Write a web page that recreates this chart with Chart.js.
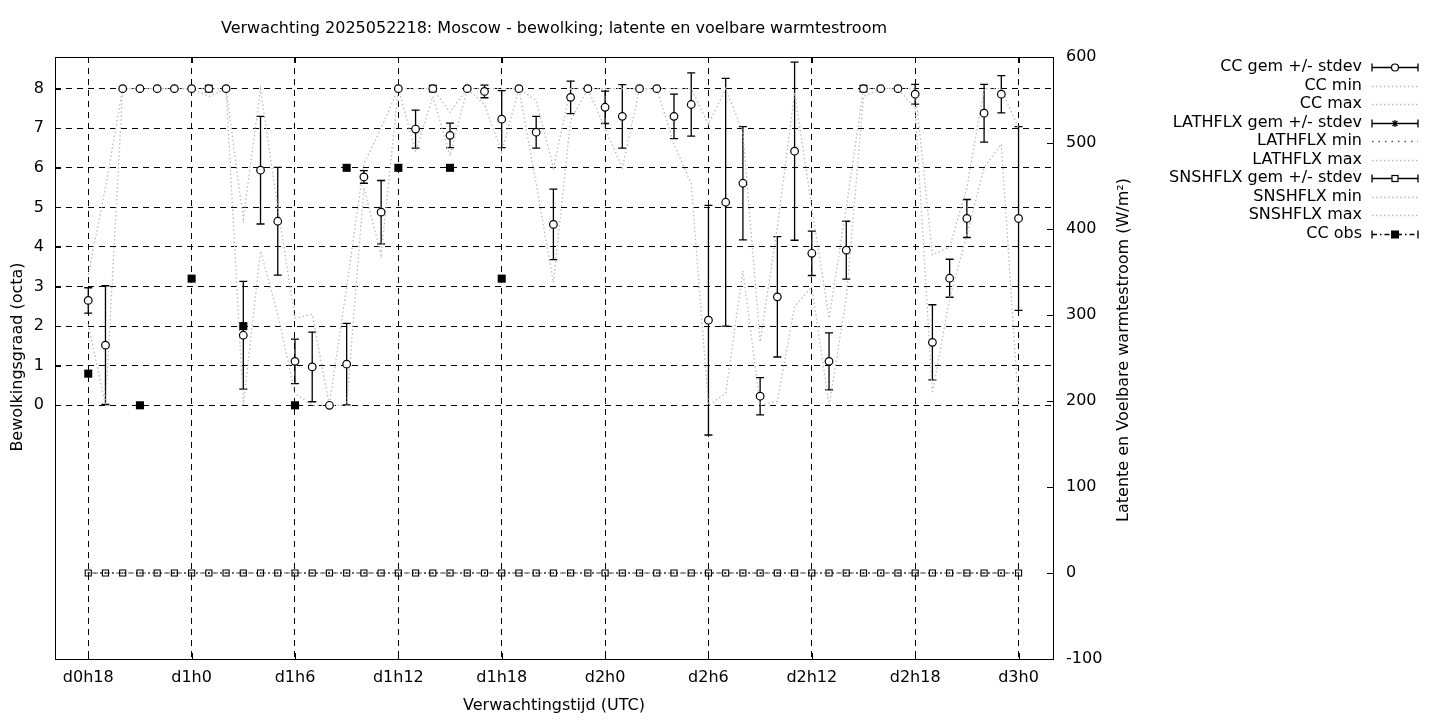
<!DOCTYPE html>
<html>
<head>
<meta charset="utf-8">
<script src="https://cdn.jsdelivr.net/npm/chart.js@4.4.1/dist/chart.umd.min.js"></script>
<style>
  body { margin: 0; background: #fff; }
  canvas { display: block; }
</style>
</head>
<body>
<canvas id="chart" width="1440" height="720"></canvas>
<script>
// forecast hours (hours after d0h0)
const hours = [18,19,20,21,22,23,24,25,26,27,28,29,30,31,32,33,34,35,36,37,38,39,40,41,42,43,44,45,46,47,48,49,50,51,52,53,54,55,56,57,58,59,60,61,62,63,64,65,66,67,68,69,70,71,72];
const tickHours = [18,24,30,36,42,48,54,60,66,72];
const tickLabels = ['d0h18','d1h0','d1h6','d1h12','d1h18','d2h0','d2h6','d2h12','d2h18','d3h0'];
const ccTicks = [0,1,2,3,4,5,6,7,8];
const fluxTicks = [-100,0,100,200,300,400,500,600];

// bewolking (octa)
const ccMean = [2.65,1.52,8,8,8,8,8,8,8,1.77, 5.94,4.65,1.11,0.97,0,1.04,5.77,4.88,8,6.98, 8,6.82,8,7.93,7.23,8,6.90,4.57,7.78,8, 7.53,7.30,8,8,7.30,7.60,2.15,5.13,5.61,0.23, 2.74,6.42,3.84,1.11,3.92,8,8,8,7.86,1.59, 3.21,4.72,7.38,7.86,4.72];
const ccStdev = [0.32,1.5,0,0,0,0,0,0.08,0,1.36, 1.36,1.36,0.56,0.88,0,1.03,0.16,0.80,0,0.48, 0.08,0.31,0,0.16,0.72,0,0.40,0.89,0.41,0, 0.41,0.80,0,0,0.56,0.80,2.90,3.13,1.43,0.47, 1.52,2.25,0.56,0.72,0.73,0.08,0,0,0.25,0.95, 0.48,0.48,0.73,0.47,2.32];
const ccMin = [2.05,0,8,8,8,8,8,7.8,8,0, 3.9,2.3,0.3,0,0,0,5.5,3.8,8,6.4, 7.8,6.3,8,7.6,6.4,8,5.6,3.1,7.2,8, 7.0,6.0,8,8,6.6,5.6,0,0.3,3.4,0, 0.1,2.5,3.0,0,2.7,7.8,8,8,7.5,0.3, 2.7,4.3,6.0,6.6,0];
const ccMax = [3.3,5.5,8,8,8,8,8,8,8,4.7, 8,5.0,2.2,2.3,0,3.0,6.1,7.0,8,8, 8,7.4,8,8,8,8,7.7,6.0,8,8, 8,8,8,8,8,8,7.1,8,6.9,1.6, 4.5,7.9,5.0,2.2,5.0,8,8,8,8,3.8, 4.0,5.5,8,8,7.0];

// warmtestroom (W/m2)
const lathflxMean = [0,0,0,0,0,0,0,0,0,0,0, 0,0,0,0,0,0,0,0,0,0,0, 0,0,0,0,0,0,0,0,0,0,0, 0,0,0,0,0,0,0,0,0,0,0, 0,0,0,0,0,0,0,0,0,0,0];
const lathflxMin = [0,0,0,0,0,0,0,0,0,0,0, 0,0,0,0,0,0,0,0,0,0,0, 0,0,0,0,0,0,0,0,0,0,0, 0,0,0,0,0,0,0,0,0,0,0, 0,0,0,0,0,0,0,0,0,0,0];
const lathflxMax = [0,0,0,0,0,0,0,0,0,0,0, 0,0,0,0,0,0,0,0,0,0,0, 0,0,0,0,0,0,0,0,0,0,0, 0,0,0,0,0,0,0,0,0,0,0, 0,0,0,0,0,0,0,0,0,0,0];
const snshflxMean = [0,0,0,0,0,0,0,0,0,0,0, 0,0,0,0,0,0,0,0,0,0,0, 0,0,0,0,0,0,0,0,0,0,0, 0,0,0,0,0,0,0,0,0,0,0, 0,0,0,0,0,0,0,0,0,0,0];
const snshflxMin = [0,0,0,0,0,0,0,0,0,0,0, 0,0,0,0,0,0,0,0,0,0,0, 0,0,0,0,0,0,0,0,0,0,0, 0,0,0,0,0,0,0,0,0,0,0, 0,0,0,0,0,0,0,0,0,0,0];
const snshflxMax = [0,0,0,0,0,0,0,0,0,0,0, 0,0,0,0,0,0,0,0,0,0,0, 0,0,0,0,0,0,0,0,0,0,0, 0,0,0,0,0,0,0,0,0,0,0, 0,0,0,0,0,0,0,0,0,0,0];

// waarnemingen
const obsHours = [18,21,24,27,30,33,36,39,42];
const obsValues = [0.8,0,3.2,2.0,0,6,6,6,3.2];

const legendLabels = ['CC gem +/- stdev','CC min','CC max','LATHFLX gem +/- stdev','LATHFLX min','LATHFLX max','SNSHFLX gem +/- stdev','SNSHFLX min','SNSHFLX max','CC obs'];

const FONT = '"DejaVu Sans", sans-serif';
const pts = (xs, ys) => xs.map((h, i) => ({ x: h, y: ys[i] }));

const dotted = (data, axis, color, dash) => ({
  data: data, yAxisID: axis, showLine: true, pointRadius: 0,
  borderColor: color, borderWidth: 1.3, borderDash: dash
});

// foutbalken voor CC gemiddelde
const errorBars = {
  id: 'errorBars',
  beforeDatasetsDraw(chart) {
    const ctx = chart.ctx, xs = chart.scales.x, ys = chart.scales.y;
    ctx.save();
    ctx.strokeStyle = '#000';
    ctx.lineWidth = 1.3;
    hours.forEach((h, i) => {
      if (!ccStdev[i]) return;
      const x = xs.getPixelForValue(h);
      const y1 = ys.getPixelForValue(ccMean[i] + ccStdev[i]);
      const y2 = ys.getPixelForValue(ccMean[i] - ccStdev[i]);
      ctx.beginPath();
      ctx.moveTo(x, y1); ctx.lineTo(x, y2);
      ctx.moveTo(x - 4, y1); ctx.lineTo(x + 4, y1);
      ctx.moveTo(x - 4, y2); ctx.lineTo(x + 4, y2);
      ctx.stroke();
    });
    ctx.restore();
  }
};

// kader, titels en legenda in gnuplot-stijl
const decorations = {
  id: 'decorations',
  afterDraw(chart) {
    const ctx = chart.ctx, a = chart.chartArea;
    const xs = chart.scales.x, ys = chart.scales.y, y2s = chart.scales.y2;
    ctx.save();
    ctx.strokeStyle = '#000';
    ctx.lineWidth = 1;
    ctx.strokeRect(Math.round(a.left) + 0.5, Math.round(a.top) + 0.5, Math.round(a.right - a.left), Math.round(a.bottom - a.top));
    ctx.beginPath();
    ccTicks.forEach(v => {
      const y = Math.round(ys.getPixelForValue(v)) + 0.5;
      ctx.moveTo(a.left, y); ctx.lineTo(a.left + 6, y);
    });
    fluxTicks.forEach(v => {
      const y = Math.round(y2s.getPixelForValue(v)) + 0.5;
      ctx.moveTo(a.right, y); ctx.lineTo(a.right - 6, y);
    });
    tickHours.forEach(h => {
      const x = Math.round(xs.getPixelForValue(h)) + 0.5;
      ctx.moveTo(x, a.bottom); ctx.lineTo(x, a.bottom - 6);
      ctx.moveTo(x, a.top); ctx.lineTo(x, a.top + 6);
    });
    ctx.stroke();

    ctx.fillStyle = '#000';
    ctx.font = '16px ' + FONT;
    ctx.textAlign = 'center';
    ctx.textBaseline = 'middle';
    const cx = (a.left + a.right) / 2;
    ctx.fillText('Verwachting 2025052218: Moscow - bewolking; latente en voelbare warmtestroom', cx, 29);
    ctx.fillText('Verwachtingstijd (UTC)', cx, 706);
    ctx.save();
    ctx.translate(18, 357);
    ctx.rotate(-Math.PI / 2);
    ctx.fillText('Bewolkingsgraad (octa)', 0, 0);
    ctx.restore();
    ctx.save();
    ctx.translate(1124, 350);
    ctx.rotate(-Math.PI / 2);
    ctx.fillText('Latente en Voelbare warmtestroom (W/m²)', 0, 0);
    ctx.restore();

    // legenda
    const x1 = 1372, x2 = 1418, xm = 1395;
    legendLabels.forEach((label, i) => {
      const y = 67 + i * 18.5;
      ctx.textAlign = 'right';
      ctx.fillStyle = '#000';
      ctx.fillText(label, 1362, y);
      const yy = Math.round(y) + 0.5;
      ctx.save();
      if (i === 0 || i === 3 || i === 6 || i === 9) {
        ctx.strokeStyle = '#000';
        ctx.lineWidth = 1.3;
        if (i === 9) ctx.setLineDash([5, 3, 1.5, 3]);
        ctx.beginPath();
        ctx.moveTo(x1, yy); ctx.lineTo(x2, yy);
        ctx.stroke();
        ctx.setLineDash([]);
        ctx.beginPath();
        ctx.moveTo(x1, yy - 4); ctx.lineTo(x1, yy + 4);
        ctx.moveTo(x2, yy - 4); ctx.lineTo(x2, yy + 4);
        ctx.stroke();
        ctx.lineWidth = 1.2;
        if (i === 0) {
          ctx.fillStyle = '#fff';
          ctx.beginPath(); ctx.arc(xm, yy, 3.5, 0, Math.PI * 2); ctx.fill(); ctx.stroke();
        } else if (i === 3) {
          ctx.beginPath();
          for (let k = 0; k < 4; k++) {
            const t = k * Math.PI / 4;
            ctx.moveTo(xm - 3.5 * Math.cos(t), yy - 3.5 * Math.sin(t));
            ctx.lineTo(xm + 3.5 * Math.cos(t), yy + 3.5 * Math.sin(t));
          }
          ctx.stroke();
        } else if (i === 6) {
          ctx.fillStyle = '#fff';
          ctx.fillRect(xm - 3, yy - 3, 6, 6); ctx.strokeRect(xm - 3, yy - 3, 6, 6);
        } else {
          ctx.fillStyle = '#000';
          ctx.fillRect(xm - 4, yy - 4, 8, 8);
        }
      } else {
        ctx.strokeStyle = i === 4 ? '#555' : '#bbb';
        ctx.lineWidth = 1.3;
        ctx.setLineDash(i === 4 ? [1.5, 5] : [1.5, 2.5]);
        ctx.beginPath();
        ctx.moveTo(x1, yy); ctx.lineTo(x2, yy);
        ctx.stroke();
      }
      ctx.restore();
    });
    ctx.restore();
  }
};

const tickFont = { family: FONT, size: 16 };

new Chart(document.getElementById('chart'), {
  type: 'scatter',
  data: {
    datasets: [
      { data: pts(obsHours, obsValues), yAxisID: 'y', pointStyle: 'rect', pointRadius: 5.7,
        backgroundColor: '#000', borderColor: '#000', borderWidth: 0 },
      { data: pts(hours, ccMean), yAxisID: 'y', pointStyle: 'circle', pointRadius: 3.8,
        backgroundColor: '#fff', borderColor: '#000', borderWidth: 1.2 },
      { data: pts(hours, snshflxMean), yAxisID: 'y2', pointStyle: 'rect', pointRadius: 4.3,
        backgroundColor: 'rgba(255,255,255,0)', borderColor: '#000', borderWidth: 1.1 },
      { data: pts(hours, lathflxMean), yAxisID: 'y2', pointStyle: 'circle', pointRadius: 0.8,
        backgroundColor: '#000', borderColor: '#000', borderWidth: 0 },
      dotted(pts(hours, ccMin), 'y', '#bbb', [1.5, 2.5]),
      dotted(pts(hours, ccMax), 'y', '#bbb', [1.5, 2.5]),
      dotted(pts(hours, lathflxMin), 'y2', '#333', [1.5, 4.5]),
      dotted(pts(hours, lathflxMax), 'y2', '#999', [1.5, 2.5]),
      dotted(pts(hours, snshflxMin), 'y2', '#bbb', [1.5, 2.5]),
      dotted(pts(hours, snshflxMax), 'y2', '#bbb', [1.5, 2.5])
    ]
  },
  options: {
    responsive: false,
    animation: false,
    devicePixelRatio: 1,
    layout: { padding: { top: 57, left: 0, right: 0, bottom: 0 } },
    plugins: { legend: { display: false }, tooltip: { enabled: false }, title: { display: false } },
    scales: {
      x: {
        type: 'linear', min: 16.07, max: 74,
        afterBuildTicks: s => { s.ticks = tickHours.map(v => ({ value: v })); },
        afterFit: s => { s.height = 61; },
        ticks: { font: tickFont, color: '#000', padding: 9, maxRotation: 0, autoSkip: false,
                 callback: (v, i) => tickLabels[i] },
        grid: { color: '#000', lineWidth: 1, drawTicks: false },
        border: { display: false, dash: [6, 5] }
      },
      y: {
        position: 'left', min: -6.41, max: 8.8,
        afterBuildTicks: s => { s.ticks = ccTicks.map(v => ({ value: v })); },
        afterFit: s => { s.width = 55; },
        ticks: { font: tickFont, color: '#000', padding: 11 },
        grid: { color: '#000', lineWidth: 1, drawTicks: false },
        border: { display: false, dash: [6, 5] }
      },
      y2: {
        position: 'right', min: -100, max: 600,
        afterBuildTicks: s => { s.ticks = fluxTicks.map(v => ({ value: v })); },
        afterFit: s => { s.width = 387; },
        ticks: { font: tickFont, color: '#000', padding: 13 },
        grid: { display: false, drawTicks: false },
        border: { display: false }
      }
    }
  },
  plugins: [errorBars, decorations]
});
</script>
</body>
</html>
